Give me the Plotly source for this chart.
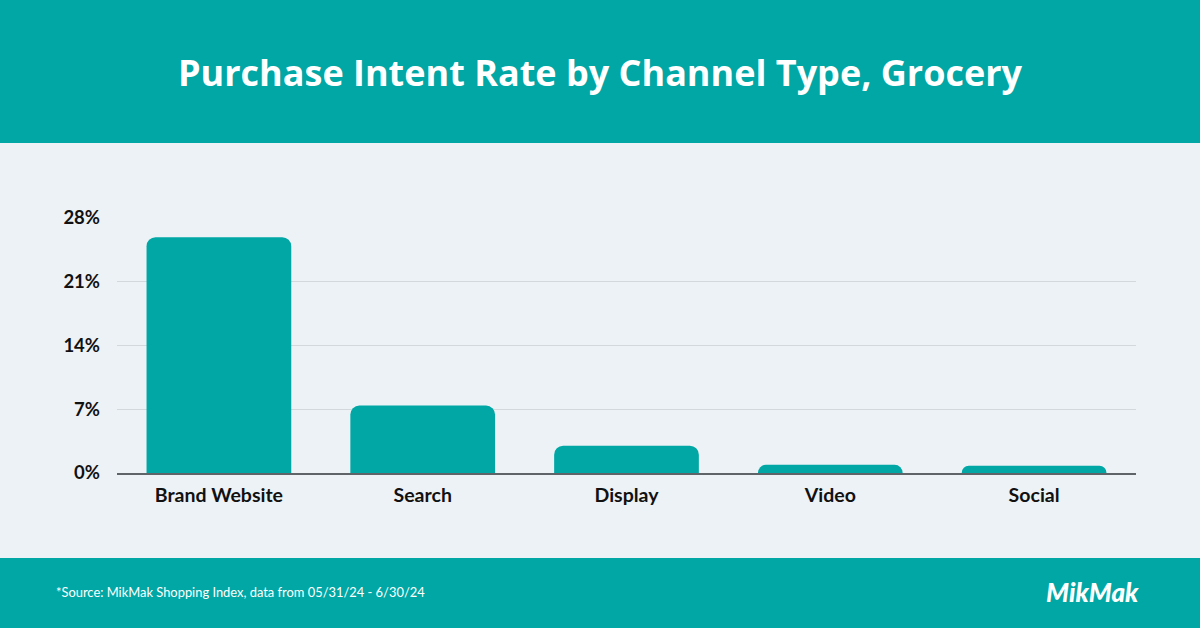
import plotly.graph_objects as go

categories = ["Brand Website", "Search", "Display", "Video", "Social"]
values = [25.9, 7.4, 3.0, 0.9, 0.8]
tick_vals = [0, 7, 14, 21, 28]
tick_text = ["0%", "7%", "14%", "21%", "28%"]

TEAL = "#00A7A5"
BG = "#EDF2F6"

fig = go.Figure(go.Bar(x=categories, y=values, marker=dict(color=TEAL, line=dict(width=0)),
                       hoverinfo="skip"))

W, H = 1200, 628
L, R, T, B = 117, 64, 218, 155
pw, ph = W - L - R, H - T - B

def px_x(p):
    return (p - L) / pw

def px_y(p):
    return (H - B - p) / ph

shapes = [
    dict(type="rect", xref="paper", yref="paper", x0=px_x(0), x1=px_x(W), y0=px_y(143), y1=px_y(0),
         fillcolor=TEAL, line=dict(width=0), layer="below"),
    dict(type="rect", xref="paper", yref="paper", x0=px_x(0), x1=px_x(W), y0=px_y(W), y1=px_y(558),
         fillcolor=TEAL, line=dict(width=0), layer="below"),
]

annotations = [
    dict(text="Purchase Intent Rate by Channel Type, Grocery", xref="paper", yref="paper",
         x=px_x(600), y=px_y(72), xanchor="center", yanchor="middle", showarrow=False,
         font=dict(family="Open Sans", size=36, color="white", weight=700)),
    dict(text="*Source: MikMak Shopping Index, data from 05/31/24 - 6/30/24", xref="paper", yref="paper",
         x=px_x(54), y=px_y(592), xanchor="left", yanchor="middle", showarrow=False,
         font=dict(family="Lato", size=12.9, color="white")),
    dict(text="<i>MikMak</i>", xref="paper", yref="paper",
         x=px_x(1092), y=px_y(592), xanchor="center", yanchor="middle", showarrow=False,
         font=dict(family="Lato", size=26, color="white", weight=900)),
]

fig.update_layout(
    width=W, height=H,
    margin=dict(l=L, r=R, t=T, b=B, pad=0),
    paper_bgcolor=BG, plot_bgcolor=BG,
    bargap=0.29, barcornerradius=9,
    showlegend=False,
    shapes=shapes, annotations=annotations,
    xaxis=dict(showgrid=False, showline=True, linecolor="#5F6468", linewidth=2,
               tickfont=dict(family="Lato", size=19.5, color="#111111", weight=700),
               ticks="", ticklabelstandoff=4, fixedrange=True),
    yaxis=dict(range=[0, 28], tickvals=tick_vals, ticktext=tick_text,
               showgrid=True, gridcolor="#D3D8DC", gridwidth=1, zeroline=False,
               showline=False, ticks="", ticklabelstandoff=16,
               tickfont=dict(family="Lato", size=18.5, color="#111111", weight=700), fixedrange=True),
)

fig.write_html("out.html", config={"displayModeBar": False},
               post_script="document.body.style.margin='0';document.body.style.padding='0';")
